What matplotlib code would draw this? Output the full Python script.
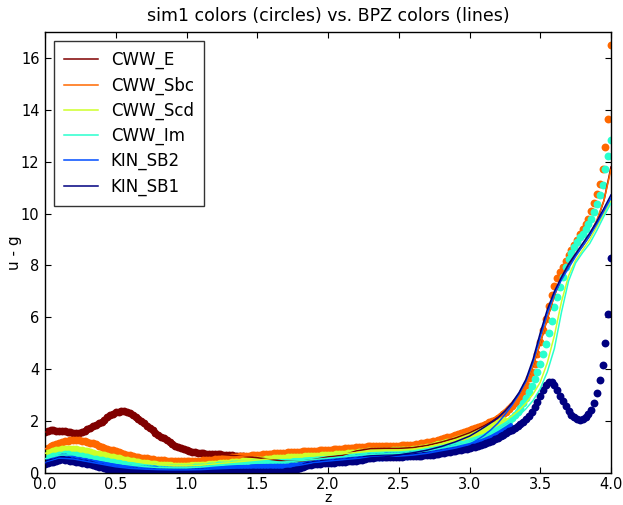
import numpy as np
import matplotlib
matplotlib.use("Agg")
import matplotlib.pyplot as plt

# ---------------------------------------------------------------------------
# Templates and their u - g colours as a function of redshift
# ---------------------------------------------------------------------------
templates = ["CWW_E", "CWW_Sbc", "CWW_Scd", "CWW_Im", "KIN_SB2", "KIN_SB1"]

# sim1 colours, sampled every 0.02 in z starting at z = 0
z_step_sim = 0.02

sim_E = [
    1.58, 1.63, 1.66, 1.64, 1.61, 1.60, 1.61, 1.60, 1.58, 1.57,
    1.56, 1.55, 1.55, 1.57, 1.62, 1.68, 1.74, 1.80, 1.85, 1.91,
    1.98, 2.06, 2.14, 2.22, 2.29, 2.34, 2.37, 2.39, 2.38, 2.35,
    2.30, 2.24, 2.17, 2.09, 2.01, 1.92, 1.83, 1.74, 1.65, 1.56,
    1.48, 1.40, 1.33, 1.26, 1.19, 1.12, 1.06, 1.00, 0.95, 0.91,
    0.87, 0.84, 0.82, 0.80, 0.78, 0.77, 0.76, 0.75, 0.74, 0.74,
    0.73, 0.73, 0.72, 0.71, 0.70, 0.69, 0.68, 0.67, 0.66, 0.65,
    0.64, 0.63, 0.62, 0.61, 0.60, 0.59, 0.58, 0.57, 0.56, 0.54,
    0.52, 0.50, 0.48, 0.47, 0.46, 0.45, 0.45, 0.44, 0.44, 0.44,
    0.45, 0.46, 0.47, 0.48, 0.50, 0.52, 0.54, 0.56, 0.58, 0.60,
    0.62, 0.63, 0.64, 0.65, 0.66, 0.68, 0.70, 0.73, 0.77, 0.81,
    0.85, 0.88, 0.90, 0.92, 0.93, 0.94, 0.94, 0.95, 0.95, 0.95,
    0.95, 0.95, 0.95, 0.95, 0.95, 0.95, 0.96, 0.96, 0.96, 0.97,
    0.98, 0.99, 1.00, 1.02, 1.04, 1.06, 1.08, 1.10, 1.13, 1.16,
    1.19, 1.22, 1.25, 1.28, 1.31, 1.35, 1.39, 1.43, 1.47, 1.51,
]

sim_Sbc = [
    0.93, 0.98, 1.03, 1.08, 1.12, 1.16, 1.19, 1.22, 1.24, 1.26,
    1.27, 1.27, 1.26, 1.25, 1.23, 1.20, 1.17, 1.14, 1.10, 1.06,
    1.02, 0.98, 0.94, 0.90, 0.87, 0.83, 0.80, 0.77, 0.74, 0.71,
    0.68, 0.66, 0.63, 0.61, 0.59, 0.57, 0.56, 0.54, 0.53, 0.52,
    0.51, 0.50, 0.49, 0.48, 0.47, 0.47, 0.46, 0.46, 0.46, 0.46,
    0.46, 0.46, 0.46, 0.47, 0.47, 0.48, 0.49, 0.50, 0.51, 0.52,
    0.53, 0.54, 0.55, 0.57, 0.58, 0.59, 0.60, 0.62, 0.63, 0.64,
    0.65, 0.66, 0.67, 0.68, 0.69, 0.70, 0.71, 0.72, 0.73, 0.74,
    0.75, 0.76, 0.76, 0.77, 0.78, 0.79, 0.80, 0.80, 0.81, 0.82,
    0.82, 0.83, 0.84, 0.84, 0.85, 0.85, 0.86, 0.87, 0.87, 0.88,
    0.89, 0.90, 0.91, 0.92, 0.93, 0.94, 0.95, 0.96, 0.97, 0.98,
    0.99, 1.00, 1.01, 1.02, 1.03, 1.04, 1.05, 1.05, 1.06, 1.06,
    1.06, 1.06, 1.06, 1.06, 1.06, 1.06, 1.07, 1.07, 1.07, 1.08,
    1.09, 1.10, 1.12, 1.14, 1.16, 1.18, 1.20, 1.22, 1.25, 1.28,
    1.31, 1.34, 1.37, 1.40, 1.43, 1.47, 1.50, 1.53, 1.57, 1.61,
    1.64, 1.68, 1.72, 1.76, 1.80, 1.85, 1.90, 1.95, 2.00, 2.06,
    2.12, 2.19, 2.27, 2.36, 2.46, 2.57, 2.69, 2.82, 2.95, 3.15,
    3.40, 3.65, 3.90, 4.20, 4.60, 5.05, 5.50, 5.95, 6.45, 6.85,
    7.20, 7.50, 7.75, 7.95, 8.18, 8.40, 8.60, 8.80, 9.00, 9.20,
    9.40, 9.60, 9.80, 10.10, 10.40, 10.75, 11.15, 11.70, 12.55, 13.65,
    16.50,
]

sim_Scd = [
    0.76, 0.79, 0.82, 0.85, 0.88, 0.90, 0.92, 0.93, 0.93, 0.93,
    0.92, 0.91, 0.89, 0.87, 0.85, 0.83, 0.80, 0.78, 0.75, 0.73,
    0.70, 0.68, 0.65, 0.63, 0.60, 0.58, 0.56, 0.53, 0.51, 0.49,
    0.47, 0.45, 0.43, 0.41, 0.40, 0.38, 0.37, 0.35, 0.34, 0.33,
    0.32, 0.31, 0.30, 0.29, 0.29, 0.28, 0.28, 0.28, 0.28, 0.28,
    0.28, 0.28, 0.29, 0.29, 0.30, 0.30, 0.31, 0.32, 0.33, 0.34,
    0.35, 0.36, 0.37, 0.38, 0.39, 0.40, 0.41, 0.42, 0.43, 0.44,
    0.45, 0.46, 0.47, 0.48, 0.49, 0.50, 0.51, 0.52, 0.53, 0.54,
    0.55, 0.56, 0.57, 0.58, 0.58, 0.59, 0.60, 0.60, 0.61, 0.62,
    0.62, 0.63, 0.64, 0.64, 0.65, 0.66, 0.66, 0.67, 0.68, 0.68,
    0.69, 0.70, 0.71, 0.72, 0.73, 0.74, 0.75, 0.76, 0.77, 0.78,
    0.79, 0.80, 0.81, 0.82, 0.83, 0.84, 0.84, 0.85, 0.85, 0.86,
    0.86, 0.86, 0.86, 0.87, 0.87, 0.87, 0.88, 0.88, 0.89, 0.90,
    0.91, 0.92, 0.94, 0.96, 0.98, 1.00, 1.02, 1.04, 1.07, 1.10,
    1.12, 1.15, 1.18, 1.21, 1.24, 1.27, 1.30, 1.33, 1.37, 1.41,
    1.45, 1.49, 1.53, 1.57, 1.61, 1.65, 1.70, 1.75, 1.80, 1.86,
    1.92, 1.99, 2.06,
]

sim_Im = [
    0.55, 0.58, 0.61, 0.64, 0.67, 0.69, 0.71, 0.72, 0.72, 0.71,
    0.70, 0.68, 0.66, 0.64, 0.62, 0.60, 0.57, 0.55, 0.53, 0.51,
    0.49, 0.47, 0.45, 0.43, 0.41, 0.39, 0.37, 0.35, 0.34, 0.32,
    0.31, 0.29, 0.28, 0.27, 0.26, 0.25, 0.24, 0.23, 0.22, 0.22,
    0.21, 0.21, 0.20, 0.20, 0.20, 0.20, 0.20, 0.20, 0.20, 0.20,
    0.20, 0.21, 0.21, 0.22, 0.22, 0.23, 0.24, 0.25, 0.26, 0.27,
    0.28, 0.29, 0.30, 0.30, 0.31, 0.32, 0.33, 0.33, 0.34, 0.35,
    0.35, 0.36, 0.36, 0.37, 0.37, 0.38, 0.38, 0.39, 0.39, 0.40,
    0.40, 0.41, 0.41, 0.42, 0.42, 0.43, 0.44, 0.44, 0.45, 0.46,
    0.47, 0.48, 0.49, 0.50, 0.51, 0.52, 0.53, 0.54, 0.55, 0.56,
    0.57, 0.58, 0.59, 0.60, 0.61, 0.62, 0.63, 0.64, 0.65, 0.66,
    0.67, 0.68, 0.69, 0.70, 0.71, 0.72, 0.72, 0.73, 0.73, 0.74,
    0.74, 0.74, 0.74, 0.75, 0.75, 0.75, 0.76, 0.76, 0.77, 0.78,
    0.79, 0.80, 0.81, 0.82, 0.84, 0.86, 0.88, 0.90, 0.92, 0.94,
    0.96, 0.98, 1.00, 1.02, 1.04, 1.06, 1.08, 1.10, 1.13, 1.16,
    1.19, 1.22, 1.26, 1.30, 1.34, 1.39, 1.44, 1.50, 1.56, 1.62,
    1.69, 1.76, 1.84, 1.93, 2.02, 2.12, 2.23, 2.35, 2.50, 2.68,
    2.90, 3.12, 3.36, 3.62, 3.90, 4.22, 4.58, 4.98, 5.40, 5.85,
    6.38, 6.80, 7.18, 7.57, 7.95, 8.26, 8.47, 8.70, 8.90, 9.08,
    9.23, 9.40, 9.58, 9.80, 10.05, 10.36, 10.72, 11.11, 11.72, 12.22,
    12.84,
]

sim_SB2 = [
    0.40, 0.43, 0.46, 0.50, 0.54, 0.57, 0.60, 0.60, 0.58, 0.56,
    0.54, 0.52, 0.50, 0.48, 0.46, 0.44, 0.42, 0.40, 0.38, 0.36,
    0.34, 0.32, 0.30, 0.28, 0.26, 0.24, 0.22, 0.21, 0.20, 0.19,
    0.18, 0.17, 0.17, 0.16, 0.16, 0.15, 0.15, 0.14, 0.14, 0.14,
    0.13, 0.13, 0.13, 0.13, 0.12, 0.12, 0.12, 0.12, 0.12, 0.12,
    0.12, 0.12, 0.12, 0.13, 0.13, 0.13, 0.14, 0.14, 0.15, 0.15,
    0.16, 0.16, 0.17, 0.17, 0.18, 0.18, 0.19, 0.19, 0.20, 0.20,
    0.21, 0.21, 0.21, 0.22, 0.22, 0.22, 0.23, 0.23, 0.23, 0.23,
    0.23, 0.23, 0.23, 0.23, 0.24, 0.24, 0.25, 0.26, 0.27, 0.28,
    0.30, 0.32, 0.34, 0.36, 0.38, 0.40, 0.42, 0.43, 0.44, 0.45,
    0.46, 0.47, 0.48, 0.49, 0.50, 0.51, 0.52, 0.53, 0.54, 0.55,
    0.56, 0.57, 0.58, 0.59, 0.60, 0.61, 0.62, 0.62, 0.63, 0.63,
    0.64, 0.64, 0.64, 0.65, 0.65, 0.65, 0.66, 0.66, 0.67, 0.68,
    0.69, 0.70, 0.71, 0.72, 0.74, 0.76, 0.78, 0.80, 0.82, 0.84,
    0.86, 0.88, 0.90, 0.92, 0.94, 0.96, 0.98, 1.00, 1.02, 1.05,
    1.08, 1.11, 1.14, 1.18, 1.22, 1.26, 1.30, 1.35, 1.40, 1.45,
    1.51, 1.57, 1.64, 1.72, 1.80,
]

sim_SB1 = [
    0.36, 0.38, 0.41, 0.44, 0.48, 0.51, 0.53, 0.52, 0.50, 0.48,
    0.46, 0.44, 0.42, 0.40, 0.38, 0.36, 0.34, 0.31, 0.28, 0.25,
    0.22, 0.19, 0.16, 0.14, 0.12, 0.10, 0.09, 0.08, 0.07, 0.07,
    0.06, 0.06, 0.06, 0.05, 0.05, 0.05, 0.05, 0.05, 0.05, 0.05,
    0.05, 0.05, 0.05, 0.05, 0.05, 0.05, 0.05, 0.05, 0.05, 0.05,
    0.05, 0.05, 0.05, 0.05, 0.05, 0.05, 0.05, 0.05, 0.05, 0.05,
    0.05, 0.05, 0.05, 0.05, 0.05, 0.05, 0.05, 0.05, 0.05, 0.05,
    0.05, 0.05, 0.05, 0.05, 0.05, 0.05, 0.05, 0.05, 0.05, 0.05,
    0.05, 0.05, 0.05, 0.05, 0.05, 0.06, 0.07, 0.09, 0.12, 0.16,
    0.20, 0.24, 0.27, 0.30, 0.32, 0.34, 0.35, 0.36, 0.37, 0.37,
    0.38, 0.39, 0.40, 0.41, 0.42, 0.43, 0.44, 0.45, 0.46, 0.47,
    0.48, 0.50, 0.52, 0.54, 0.56, 0.58, 0.59, 0.60, 0.60, 0.60,
    0.60, 0.61, 0.61, 0.62, 0.62, 0.63, 0.63, 0.64, 0.64, 0.65,
    0.65, 0.66, 0.66, 0.67, 0.68, 0.69, 0.70, 0.71, 0.73, 0.75,
    0.77, 0.79, 0.81, 0.82, 0.84, 0.86, 0.88, 0.90, 0.92, 0.94,
    0.96, 0.99, 1.02, 1.05, 1.08, 1.12, 1.16, 1.20, 1.25, 1.30,
    1.36, 1.42, 1.48, 1.54, 1.60, 1.66, 1.72, 1.80, 1.88, 1.97,
    2.08, 2.21, 2.37, 2.55, 2.75, 2.97, 3.19, 3.38, 3.50, 3.52,
    3.40, 3.20, 2.98, 2.77, 2.58, 2.40, 2.25, 2.14, 2.08, 2.06,
    2.09, 2.16, 2.27, 2.43, 2.68, 3.10, 3.58, 4.15, 5.00, 6.13,
    8.28,
]

# BPZ colours: every 0.1 in z up to 3.0, then every 0.05 up to 4.0
z_bpz = [round(0.1 * i, 2) for i in range(31)] + [round(3.0 + 0.05 * i, 2) for i in range(1, 21)]

bpz_E = [
    1.58, 1.60, 1.56, 1.68, 1.98, 2.34, 2.30, 1.92, 1.48, 1.12,
    0.87, 0.77, 0.73, 0.69, 0.64, 0.59, 0.52, 0.45, 0.45, 0.52,
    0.62, 0.68, 0.85, 0.94, 0.95, 0.95, 0.98, 1.06, 1.19, 1.35,
    1.55,
    1.68, 1.82, 1.98, 2.18, 2.42, 2.70, 3.05, 3.48, 4.15, 5.00,
    5.95, 6.85, 7.50, 8.00, 8.40, 8.75, 9.15, 9.70, 10.50, 11.80,
]
bpz_Sbc = [
    0.93, 1.16, 1.27, 1.20, 1.02, 0.83, 0.68, 0.57, 0.51, 0.47,
    0.46, 0.48, 0.53, 0.59, 0.65, 0.70, 0.75, 0.79, 0.82, 0.85,
    0.89, 0.94, 0.99, 1.04, 1.06, 1.06, 1.09, 1.18, 1.31, 1.47,
    1.64,
    1.75, 1.88, 2.03, 2.22, 2.45, 2.72, 3.05, 3.45, 4.15, 5.00,
    5.95, 6.85, 7.55, 8.05, 8.45, 8.80, 9.20, 9.75, 10.50, 11.70,
]
bpz_Scd = [
    0.76, 0.90, 0.92, 0.83, 0.70, 0.58, 0.47, 0.38, 0.32, 0.28,
    0.28, 0.30, 0.35, 0.40, 0.45, 0.50, 0.55, 0.59, 0.62, 0.66,
    0.69, 0.74, 0.79, 0.84, 0.86, 0.87, 0.91, 1.00, 1.12, 1.27,
    1.40,
    1.48, 1.58, 1.70, 1.84, 2.00, 2.20, 2.42, 2.70, 3.05, 3.50,
    4.25, 5.30, 6.60, 7.60, 8.20, 8.60, 9.00, 9.50, 10.00, 10.50,
]
bpz_Im = [
    0.55, 0.69, 0.70, 0.60, 0.49, 0.39, 0.31, 0.25, 0.21, 0.20,
    0.20, 0.23, 0.28, 0.32, 0.35, 0.38, 0.40, 0.43, 0.47, 0.52,
    0.57, 0.62, 0.67, 0.72, 0.74, 0.75, 0.79, 0.86, 0.96, 1.06,
    1.19,
    1.28, 1.38, 1.50, 1.65, 1.82, 2.00, 2.22, 2.48, 2.80, 3.25,
    3.90, 4.80, 6.20, 7.40, 8.10, 8.50, 8.85, 9.35, 9.90, 10.40,
]
bpz_SB2 = [
    0.40, 0.57, 0.54, 0.44, 0.34, 0.24, 0.18, 0.15, 0.13, 0.12,
    0.12, 0.13, 0.16, 0.18, 0.21, 0.22, 0.23, 0.24, 0.30, 0.40,
    0.46, 0.51, 0.56, 0.61, 0.64, 0.65, 0.69, 0.76, 0.86, 0.96,
    1.10,
    1.26, 1.44, 1.66, 1.92, 2.25, 2.62, 3.05, 3.55, 4.30, 5.25,
    6.15, 6.90, 7.45, 7.90, 8.35, 8.75, 9.15, 9.60, 10.10, 10.60,
]
bpz_SB1 = [
    0.36, 0.51, 0.46, 0.36, 0.22, 0.10, 0.06, 0.05, 0.05, 0.05,
    0.05, 0.05, 0.05, 0.05, 0.05, 0.05, 0.05, 0.06, 0.20, 0.34,
    0.38, 0.43, 0.48, 0.58, 0.62, 0.70, 0.78, 0.88, 1.02, 1.20,
    1.42,
    1.58, 1.75, 1.93, 2.12, 2.38, 2.70, 3.10, 3.62, 4.40, 5.40,
    6.30, 7.00, 7.55, 8.05, 8.45, 8.85, 9.25, 9.70, 10.20, 10.72,
]

sim_colors = [sim_E, sim_Sbc, sim_Scd, sim_Im, sim_SB2, sim_SB1]
bpz_colors = [bpz_E, bpz_Sbc, bpz_Scd, bpz_Im, bpz_SB2, bpz_SB1]

x_ticks = [0.0, 0.5, 1.0, 1.5, 2.0, 2.5, 3.0, 3.5, 4.0]
y_ticks = [0, 2, 4, 6, 8, 10, 12, 14, 16]

# ---------------------------------------------------------------------------
plt.rcParams["font.family"] = ["DejaVu Sans"]
fig = plt.figure(figsize=(6.23, 5.05), dpi=100, facecolor="white")
ax = fig.add_axes([45 / 623, 32 / 505, 566 / 623, 441 / 505])

cmap = plt.get_cmap("jet")
colors = [cmap(1.0 - i / (len(templates) - 1)) for i in range(len(templates))]

for vals, c in zip(sim_colors, colors):
    zz = np.arange(len(vals)) * z_step_sim
    ax.scatter(zz, vals, s=32, color=c, linewidths=0, zorder=2)

for name, vals, c in zip(templates, bpz_colors, colors):
    ax.plot(z_bpz, vals, "-", color=c, lw=1.1, label=name, zorder=3)

ax.set_xlim(0, 4)
ax.set_ylim(0, 17)
ax.set_xticks(x_ticks)
ax.set_xticklabels([f"{t:.1f}" for t in x_ticks])
ax.set_yticks(y_ticks)
ax.tick_params(direction="in", top=True, right=True, length=4, width=0.8,
               labelsize=10.5)
ax.tick_params(axis="x", pad=3)
ax.tick_params(axis="y", pad=4)
for sp in ax.spines.values():
    sp.set_linewidth(1.0)

ax.set_xlabel("z", fontsize=10, labelpad=-1)
ax.set_ylabel("u - g", fontsize=11, labelpad=-1)
ax.set_title("sim1 colors (circles) vs. BPZ colors (lines)", fontsize=12.5, pad=8)

leg = ax.legend(loc="upper left", fontsize=12, frameon=True, fancybox=False,
                borderpad=0.6, labelspacing=0.42, handlelength=2.0,
                handletextpad=0.8, borderaxespad=0.55)
leg.get_frame().set_edgecolor("black")
leg.get_frame().set_linewidth(1.0)

fig.savefig("out.png", dpi=100, facecolor="white")
